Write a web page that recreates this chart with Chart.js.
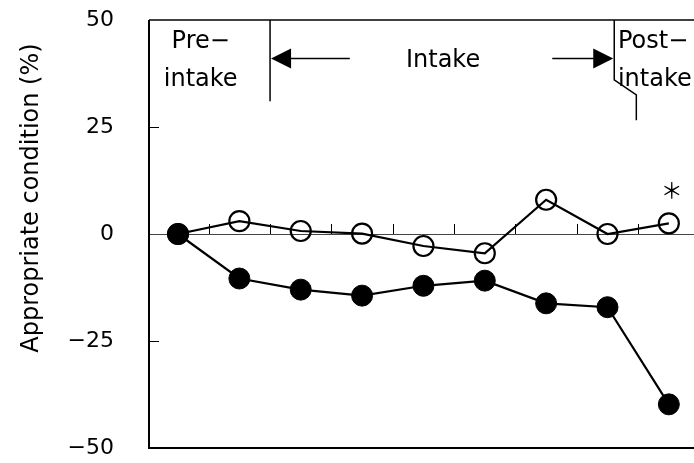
<!DOCTYPE html>
<html>
<head>
<meta charset="utf-8">
<script src="https://cdn.jsdelivr.net/npm/chart.js@4.4.1/dist/chart.umd.min.js"></script>
<style>
  html, body { margin: 0; padding: 0; background: #fff; overflow: hidden; }
  #chart { display: block; }
</style>
</head>
<body>
<canvas id="chart" width="694" height="463"></canvas>
<script>
// ====================================================
// Data
// ====================================================
const timePoints = [1, 2, 3, 4, 5, 6, 7, 8, 9];
const openSeries = [0, 3.0, 0.7, 0.1, -2.8, -4.5, 8.0, 0, 2.5];
const filledSeries = [0, -10.4, -13.0, -14.4, -12.1, -10.9, -16.2, -17.1, -39.8];
const yTickValues = [-50, -25, 0, 25, 50];
const yTickLabels = ['\u221250', '\u221225', '0', '25', '50'];
const zeroLineTicks = [1.5, 2.5, 3.5, 4.5, 5.5, 6.5, 7.5, 8.5];
const yTitle = 'Appropriate condition (%)';

const FONT = '"DejaVu Sans", sans-serif';
const CJK = '"Noto Sans CJK JP", sans-serif';

function toPoints(values) {
    return timePoints.map((t, i) => ({ x: t, y: values[i] }));
}

// ====================================================
// Frame, ticks on the zero line, phase labels, asterisk
// ====================================================
const decorPlugin = {
    id: 'decor',
    beforeDatasetsDraw(chart) {
        const { ctx, chartArea: a, scales: { x, y } } = chart;
        const y0 = y.getPixelForValue(0);
        ctx.save();
        ctx.strokeStyle = '#000';
        ctx.lineWidth = 1;
        // small ticks sitting on the zero line
        zeroLineTicks.forEach(v => {
            const px = Math.round(x.getPixelForValue(v)) + 0.5;
            ctx.beginPath();
            ctx.moveTo(px, y0);
            ctx.lineTo(px, y0 - 10);
            ctx.stroke();
        });
        // inward ticks on the left axis
        [25, -25].forEach(v => {
            const py = Math.round(y.getPixelForValue(v)) + 0.5;
            ctx.beginPath();
            ctx.moveTo(a.left, py);
            ctx.lineTo(a.left + 10, py);
            ctx.stroke();
        });
        ctx.restore();
    },
    afterDraw(chart) {
        const { ctx, chartArea: a, scales: { x, y } } = chart;
        const X = v => x.getPixelForValue(v);
        const Y = v => y.getPixelForValue(v);
        ctx.save();
        ctx.strokeStyle = '#000';
        ctx.fillStyle = '#000';

        // frame: top thin, left and bottom heavy
        ctx.lineWidth = 1.5;
        ctx.beginPath();
        ctx.moveTo(a.left, Y(50));
        ctx.lineTo(a.right, Y(50));
        ctx.stroke();
        ctx.lineWidth = 2;
        ctx.beginPath();
        ctx.moveTo(a.left, Y(50));
        ctx.lineTo(a.left, Y(-50));
        ctx.lineTo(a.right, Y(-50));
        ctx.stroke();

        // phase separators
        ctx.lineWidth = 1.5;
        ctx.beginPath();
        ctx.moveTo(X(2.5), Y(50));
        ctx.lineTo(X(2.5), Y(31));
        ctx.stroke();
        ctx.beginPath();
        ctx.moveTo(X(8.11), Y(50));
        ctx.lineTo(X(8.11), Y(36));
        ctx.lineTo(X(8.47), Y(32.5));
        ctx.lineTo(X(8.47), Y(26.6));
        ctx.stroke();

        // arrows
        const arrowY = Y(41);
        ctx.beginPath();
        ctx.moveTo(X(3.8), arrowY);
        ctx.lineTo(X(2.5) + 18, arrowY);
        ctx.moveTo(X(7.1), arrowY);
        ctx.lineTo(X(8.11) - 18, arrowY);
        ctx.stroke();
        ctx.beginPath();
        ctx.moveTo(X(2.5) + 1, arrowY);
        ctx.lineTo(X(2.5) + 21, arrowY - 10);
        ctx.lineTo(X(2.5) + 21, arrowY + 10);
        ctx.closePath();
        ctx.fill();
        ctx.beginPath();
        ctx.moveTo(X(8.11) - 1, arrowY);
        ctx.lineTo(X(8.11) - 21, arrowY - 10);
        ctx.lineTo(X(8.11) - 21, arrowY + 10);
        ctx.closePath();
        ctx.fill();

        // phase labels
        ctx.font = '24px ' + FONT;
        ctx.textBaseline = 'middle';
        ctx.textAlign = 'center';
        ctx.fillText('Pre\u2212', X(1.37), Y(45));
        ctx.fillText('intake', X(1.37), Y(36));
        ctx.fillText('Intake', X(5.32), Y(40.5));
        ctx.textAlign = 'left';
        ctx.fillText('Post\u2212', X(8.17), Y(45));
        ctx.fillText('intake', X(8.17), Y(36));

        // significance mark above the last open point
        const last = timePoints.length - 1;
        ctx.textAlign = 'center';
        ctx.font = '22px ' + CJK;
        ctx.fillText('\uFF0A', X(timePoints[last]) + 3, Y(openSeries[last]) - 34);

        // y axis title
        ctx.font = '24px ' + FONT;
        ctx.translate(32, Y(8.4));
        ctx.rotate(-Math.PI / 2);
        ctx.fillText(yTitle, 0, 0);
        ctx.restore();
    }
};

// ====================================================
// Build chart
// ====================================================
new Chart(document.getElementById('chart'), {
    type: 'line',
    data: {
        datasets: [{
            label: 'filled',
            data: toPoints(filledSeries),
            borderColor: '#000',
            borderWidth: 2.2,
            backgroundColor: '#000',
            pointBackgroundColor: '#000',
            pointBorderColor: '#000',
            pointRadius: 10.5,
            pointBorderWidth: 1,
            tension: 0
        }, {
            label: 'open',
            data: toPoints(openSeries),
            borderColor: '#000',
            borderWidth: 2.2,
            pointBackgroundColor: 'rgba(0,0,0,0)',
            pointBorderColor: '#000',
            pointRadius: 10,
            pointBorderWidth: 2.2,
            tension: 0
        }]
    },
    options: {
        responsive: false,
        devicePixelRatio: 1,
        animation: false,
        layout: { autoPadding: false, padding: { top: 20, bottom: 15, left: 0, right: 0 } },
        plugins: {
            legend: { display: false },
            tooltip: { enabled: false }
        },
        scales: {
            x: {
                type: 'linear',
                min: 0.527,
                max: 9.41,
                display: false
            },
            y: {
                min: -50,
                max: 50,
                afterFit(scale) {
                    scale.width = 149;
                    scale.paddingTop = 0;
                    scale.paddingBottom = 0;
                },
                afterBuildTicks(scale) {
                    scale.ticks = yTickValues.map(v => ({ value: v }));
                },
                ticks: {
                    padding: 35,
                    color: '#000',
                    font: { size: 22, family: FONT },
                    callback: v => yTickLabels[yTickValues.indexOf(v)]
                },
                grid: {
                    drawTicks: false,
                    color: ctx => (ctx.tick && ctx.tick.value === 0 ? '#444' : 'rgba(0,0,0,0)'),
                    lineWidth: 1
                },
                border: { display: false }
            }
        }
    },
    plugins: [decorPlugin]
});
</script>
</body>
</html>
